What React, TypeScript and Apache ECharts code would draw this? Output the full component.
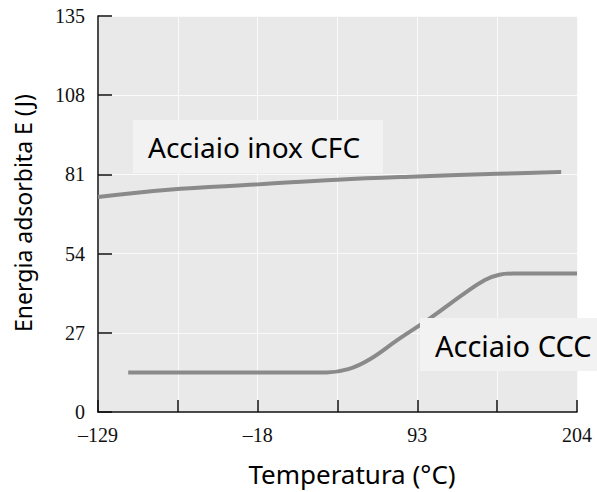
import React, { useEffect, useRef } from "react";
import * as echarts from "echarts";

// Data
const cfcTemps = [-129, -80, -18, 37.5, 93, 148.5, 193];
const cfcEnergy = [73.3, 75.8, 77.6, 79.2, 80.3, 81.2, 81.8];

const cccTemps = [-108, -40, 30, 45, 60, 79, 102, 126, 140, 150, 160, 204];
const cccEnergy = [13.5, 13.5, 13.5, 14.6, 18, 24.5, 32, 40.5, 45, 46.8, 47.2, 47.2];

const xTickValues = [-129, -73.5, -18, 37.5, 93, 148.5, 204];
const xLabelValues = [-129, -18, 93, 204];
const yMin = 0;
const yMax = 135;
const yInterval = 27;

const cfcLabel = "Acciaio inox CFC";
const cccLabel = "Acciaio CCC";
const xTitle = "Temperatura (°C)";
const yTitle = "Energia adsorbita E (J)";

export default function App() {
  const ref = useRef<HTMLDivElement>(null);
  useEffect(() => {
    if (!ref.current) return;
    const chart = echarts.init(ref.current, null, { renderer: "svg" });
    const lineColor = "#8a8a8a";
    const serif = "'Liberation Serif', 'DejaVu Serif', serif";
    const sans = "'Noto Sans', 'Open Sans', sans-serif";
    chart.setOption({
      animation: false,
      backgroundColor: "#ffffff",
      grid: {
        left: 98,
        top: 16,
        right: 20,
        bottom: 80,
        show: true,
        backgroundColor: "#e9e9e9",
        borderWidth: 0,
      },
      xAxis: {
        type: "value",
        min: -129,
        max: 204,
        axisLine: { show: true, onZero: false, lineStyle: { color: "#111", width: 1.5 } },
        axisTick: {
          show: true,
          inside: true,
          length: 12,
          customValues: xTickValues,
          lineStyle: { color: "#111", width: 1.5 },
        },
        axisLabel: {
          customValues: xLabelValues,
          formatter: (v: number) => String(v).replace("-", "–"),
          fontFamily: serif,
          fontSize: 20,
          color: "#111",
          margin: 13,
        },
        splitLine: { show: true, lineStyle: { color: "#fafafa", width: 1 } },
      },
      yAxis: {
        type: "value",
        min: yMin,
        max: yMax,
        interval: yInterval,
        axisLine: { show: true, onZero: false, lineStyle: { color: "#111", width: 1.5 } },
        axisTick: {
          show: true,
          inside: true,
          length: 14,
          lineStyle: { color: "#111", width: 1.5 },
        },
        axisLabel: {
          fontFamily: serif,
          fontSize: 20,
          color: "#111",
          margin: 13,
        },
        splitLine: { show: true, lineStyle: { color: "#fafafa", width: 1 } },
      },
      series: [
        {
          type: "line",
          data: cfcTemps.map((t, i) => [t, cfcEnergy[i]]),
          smooth: 0.4,
          showSymbol: false,
          lineStyle: { color: lineColor, width: 4 },
        },
        {
          type: "line",
          data: cccTemps.map((t, i) => [t, cccEnergy[i]]),
          smooth: 0.4,
          showSymbol: false,
          lineStyle: { color: lineColor, width: 4 },
        },
      ],
      graphic: [
        {
          type: "rect",
          shape: { x: 133, y: 120, width: 250, height: 53 },
          style: { fill: "#f2f2f2" },
          z: 100,
        },
        {
          type: "text",
          x: 148,
          y: 147,
          style: {
            text: cfcLabel,
            fontFamily: sans,
            fontSize: 28,
            fill: "#000",
            textAlign: "left",
            textVerticalAlign: "middle",
          },
          z: 101,
        },
        {
          type: "rect",
          shape: { x: 420, y: 318, width: 177, height: 53 },
          style: { fill: "#f2f2f2" },
          z: 100,
        },
        {
          type: "text",
          x: 435,
          y: 345,
          style: {
            text: cccLabel,
            fontFamily: sans,
            fontSize: 29,
            fill: "#000",
            textAlign: "left",
            textVerticalAlign: "middle",
          },
          z: 101,
        },
        {
          type: "text",
          x: 352,
          y: 474,
          style: {
            text: xTitle,
            fontFamily: sans,
            fontSize: 26,
            fill: "#000",
            textAlign: "center",
            textVerticalAlign: "middle",
          },
        },
        {
          type: "text",
          x: 23,
          y: 213,
          rotation: Math.PI / 2,
          style: {
            text: yTitle,
            fontFamily: sans,
            fontSize: 23,
            fill: "#000",
            textAlign: "center",
            textVerticalAlign: "middle",
          },
        },
      ],
    });
    return () => chart.dispose();
  }, []);
  return (
    <div
      ref={ref}
      style={{ position: "absolute", left: 0, top: 0, width: 597, height: 492 }}
    />
  );
}
